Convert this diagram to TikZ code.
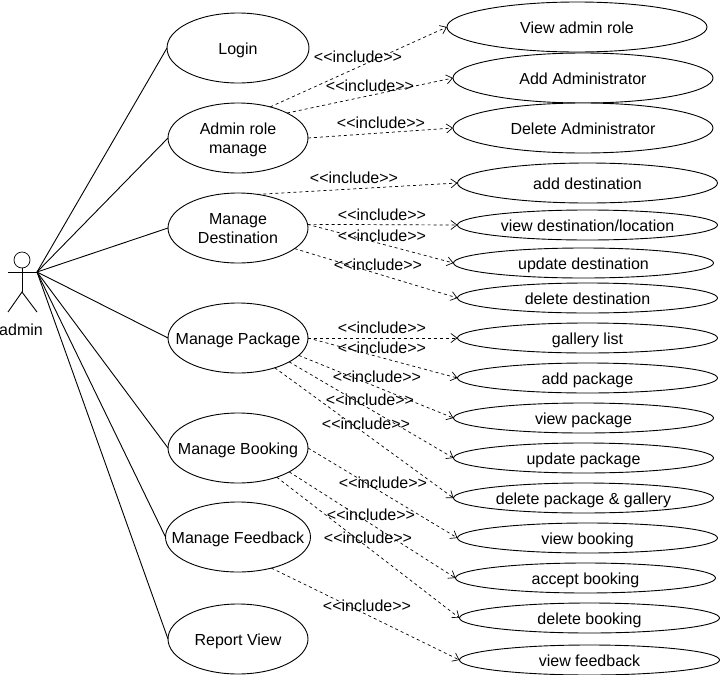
\documentclass[tikz,border=0pt]{standalone}
\usepackage{fontspec}
\setmainfont{Liberation Sans}
\usetikzlibrary{arrows.meta,shapes.geometric}
\tikzset{
  uc/.style     ={draw=black, fill=white, ellipse, align=center, inner xsep=-15pt, inner ysep=0pt, outer sep=0pt,
                  font=\fontsize{16}{19}\selectfont, text height=14pt, text depth=2pt, line width=0.9pt},
  bigl/.style   ={uc, minimum width=140pt, minimum height=70pt},
  twol/.style   ={bigl, text height=32pt},
  rbig/.style   ={uc, minimum width=260pt, minimum height=50pt},
  rmid/.style   ={uc, minimum width=260pt, minimum height=40pt},
  rsmall/.style ={uc, minimum width=260pt, minimum height=30pt},
  assoc/.style  ={draw=black, line width=0.9pt},
  incl/.style   ={-{Straight Barb[length=6pt,width=9pt]}, draw=black, line width=0.7pt, dash pattern=on 3pt off 3pt},
  lbl/.style    ={font=\fontsize{16}{19}\selectfont, inner sep=0pt},
}
\newcommand{\inc}{<{}<include>{}>}
\begin{document}
\begin{tikzpicture}[x=1pt,y=-1pt]
\useasboundingbox (0,0) rectangle (721,675);
% actor
\node[draw=black, circle, minimum size=16pt, inner sep=0pt, line width=0.7pt] (head) at (22,260) {};
\coordinate (hand) at (37,272);
\coordinate (lhand) at (8,272);
\coordinate (hip) at (22,292);
\coordinate (lfoot) at (8,312);
\coordinate (rfoot) at (37,312);
\draw[assoc] (head.south)--(hip); \draw[assoc] (lhand)--(hand);
\draw[assoc] (lfoot)--(hip)--(rfoot);
\node[lbl] (admin) at (21,330) {admin};

\node[bigl, minimum width=142pt] (login) at (238,48) {Login};
\node[twol] (role) at (238,138) {Admin role\\manage};
\node[twol] (dest) at (238,228) {Manage\\Destination};
\node[bigl] (pkg) at (238,338) {Manage Package};
\node[bigl] (book) at (238,448) {Manage Booking};
\node[bigl] (feed) at (238,537) {Manage Feedback};
\node[bigl] (report) at (238,639) {Report View};

\node[rbig] (vrole) at (577,27) {View admin role};
\node[rbig] (addadm) at (583,78) {Add Administrator};
\node[rbig] (deladm) at (583,128) {Delete Administrator};
\node[rmid] (adddest) at (587.5,183) {add destination};
\node[rsmall] (vdest) at (587.5,225) {view destination/location};
\node[rsmall] (updest) at (583.5,263) {update destination};
\node[rsmall] (deldest) at (587.5,298) {delete destination};
\node[rsmall] (gal) at (587.5,338) {gallery list};
\node[rsmall] (addpkg) at (587.5,378) {add package};
\node[rsmall] (vpkg) at (583.5,418) {view package};
\node[rsmall] (uppkg) at (583.5,458) {update package};
\node[rsmall] (delpkg) at (583.5,498) {delete package \& gallery};
\node[rsmall] (vbook) at (587.5,538) {view booking};
\node[rsmall] (accbook) at (585.5,578) {accept booking};
\node[rsmall] (delbook) at (589.5,618) {delete booking};
\node[rsmall] (vfeed) at (589.5,660) {view feedback};

\draw[assoc] (hand)--(login.west); \draw[assoc] (hand)--(role.west); \draw[assoc] (hand)--(dest.west);
\draw[assoc] (hand)--(pkg.west); \draw[assoc] (hand)--(book.west); \draw[assoc] (hand)--(feed.west);
\draw[assoc] (hand)--(report.west);

\draw[incl] (role.44)--(vrole.west); \draw[incl] (role.27)--(addadm.west); \draw[incl] (role.east)--(deladm.west);
\draw[incl] (dest.60)--(adddest.west); \draw[incl] (dest.3)--(vdest.west); \draw[incl] (dest.3)--(updest.west);
\draw[incl] (dest.-20)--(deldest.west);
\draw[incl] (pkg.east)--(gal.west); \draw[incl] (pkg.east)--(addpkg.west); \draw[incl] (pkg.-16)--(vpkg.west);
\draw[incl] (pkg.-25)--(uppkg.west); \draw[incl] (pkg.-39)--(delpkg.west);
\draw[incl] (book.east)--(vbook.west); \draw[incl] (book.-25)--(accbook.west); \draw[incl] (book.-37)--(delbook.west);
\draw[incl] (feed.-43)--(vfeed.west);

\node[lbl] (l1) at (358,57) {\inc};
\node[lbl] (l2) at (370,86) {\inc};
\node[lbl] (l3) at (381,123) {\inc};
\node[lbl] (l4) at (354,178) {\inc};
\node[lbl] (l5) at (382,215) {\inc};
\node[lbl] (l6) at (382,236) {\inc};
\node[lbl] (l7) at (378,265) {\inc};
\node[lbl] (l8) at (382,328) {\inc};
\node[lbl] (l9) at (382,348) {\inc};
\node[lbl] (l10) at (377,377) {\inc};
\node[lbl] (l11) at (370,400) {\inc};
\node[lbl] (l12) at (366,424) {\inc};
\node[lbl] (l13) at (383,483) {\inc};
\node[lbl] (l14) at (371,515) {\inc};
\node[lbl] (l15) at (368,538) {\inc};
\node[lbl] (l16) at (367,606) {\inc};
\end{tikzpicture}
\end{document}
